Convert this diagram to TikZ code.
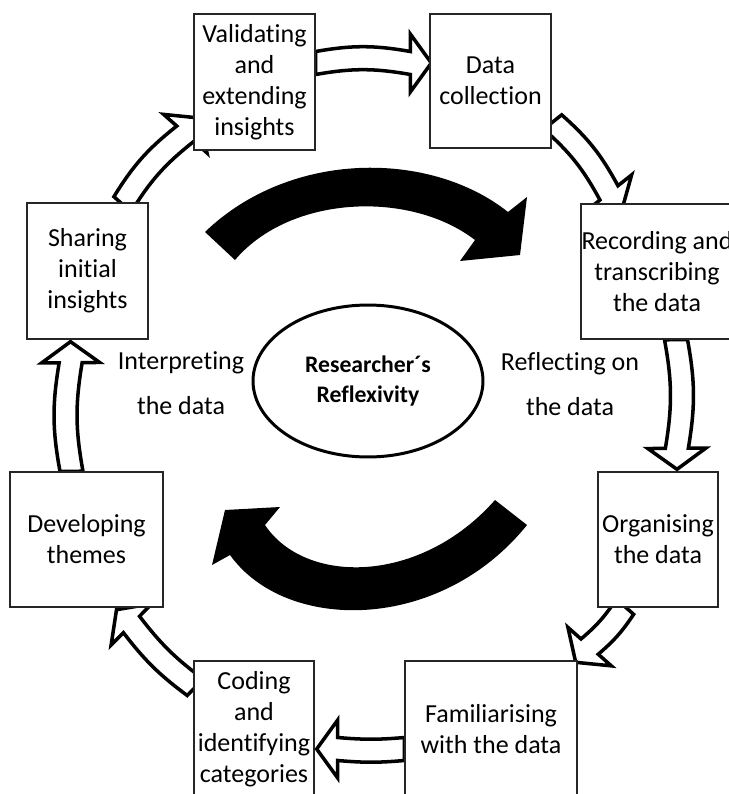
\documentclass[tikz,border=0pt]{standalone}
\usepackage{fontspec}
\setmainfont[Ligatures={NoCommon}]{Carlito}
\usetikzlibrary{positioning,calc,shapes.geometric,backgrounds}

% open block arrow from #2 to #3, #1 = bend of the shaft
\newcommand{\blockarr}[3][0]{%
  \coordinate (hb) at ($(#3)!0.42cm!(#2)$);
  \draw[whitearr] ($(#2)!0.23cm!90:(#3)$) to[bend left=#1] ($(hb)!0.23cm!-90:(#2)$)
    -- ($(hb)!0.58cm!-90:(#2)$) -- (#3) -- ($(hb)!0.58cm!90:(#2)$)
    -- ($(hb)!0.23cm!90:(#2)$) to[bend right=#1] ($(#2)!0.23cm!-90:(#3)$) -- cycle;}

\begin{document}
\begin{tikzpicture}[x=0.02cm,y=-0.02cm,
  box/.style={draw=black!85,line width=0.8pt,fill=white,inner sep=0pt,align=center,
    font=\fontsize{14.8}{17.6}\selectfont},
  lbl/.style={align=center,font=\fontsize{14.8}{25.6}\selectfont},
  whitearr/.style={draw,fill=white,line width=2pt,line join=miter}]
\useasboundingbox (0,0) rectangle (728,794);
% ---- stages round the cycle ----
\node[box,minimum width=2.42cm,minimum height=2.72cm] (valid) at (254.5,82) {Validating\\and\\extending\\insights};
\node[box,minimum width=2.42cm,minimum height=2.68cm] (data) at (490.5,81) {Data\\collection};
\node[box,minimum width=3.04cm,minimum height=2.70cm] (record) at (657,271.5) {Recording and\\transcribing\\the data};
\node[box,minimum width=2.40cm,minimum height=2.70cm] (organ) at (658,539.5) {Organising\\the data};
\node[box,minimum width=3.44cm,minimum height=2.72cm] (famil) at (491,729) {Familiarising\\with the data};
\node[box,minimum width=2.40cm,minimum height=2.72cm] (coding) at (254,729) {Coding\\and\\identifying\\categories};
\node[box,minimum width=3.06cm,minimum height=2.70cm] (devel) at (86.5,539.5) {Developing\\themes};
\node[box,minimum width=2.42cm,minimum height=2.72cm] (share) at (87.5,271) {Sharing\\initial\\insights};
% ---- centre ----
\node[draw,ellipse,line width=1.7pt,minimum width=4.6cm,minimum height=3.04cm,align=center,
  font=\bfseries\fontsize{13.5}{17}\selectfont] (refl) at (368,381) {Researcher´s\\Reflexivity};
\node[lbl] (interp) at (181,383) {Interpreting\\the data};
\node[lbl] (reflect) at (570,384) {Reflecting on\\the data};
% ---- black arrows ----
\fill (205,232) .. controls (290,150) and (430,150) .. (508,212) -- (527,197) -- (520,255)
  -- (460,261) -- (475,240) .. controls (410,190) and (290,195) .. (235,260) -- cycle;
\fill (527,525) .. controls (440,633) and (286,633) .. (230,555) -- (212,565) -- (225,510)
  -- (280,507) -- (265,525) .. controls (305,585) and (420,585) .. (495,500) -- cycle;
% ---- white arrows between stages ----
\coordinate (valid-out) at ($(valid.east)+(0,-19)$);
\coordinate (data-in) at ($(data.west)+(2,-18)$);
\coordinate (data-out) at ($(data.east)+(1,41)$);
\coordinate (record-in) at ($(record.north)+(-35,6)$);
\coordinate (record-out) at ($(record.south)+(19,0)$);
\coordinate (organ-in) at ($(organ.north)+(19,-2)$);
\coordinate (organ-out) at ($(organ.south)+(-33,-1)$);
\coordinate (famil-in) at ($(famil.north east)+(-2,2)$);
\coordinate (famil-out) at ($(famil.west)+(0,20)$);
\coordinate (coding-in) at ($(coding.east)+(2,20)$);
\coordinate (coding-out) at ($(coding.north west)+(2,27)$);
\coordinate (devel-in) at ($(devel.south)+(30,2)$);
\coordinate (devel-out) at ($(devel.north)+(-15,0)$);
\coordinate (share-in) at ($(share.south)+(-17,2)$);
\coordinate (share-out) at ($(share.north)+(35,2)$);
\coordinate (valid-in) at ($(valid.west)+(6,36)$);
\begin{scope}[on background layer]
\blockarr[10]{valid-out}{data-in}
\blockarr[10]{data-out}{record-in}
\blockarr[10]{record-out}{organ-in}
\blockarr[8]{organ-out}{famil-in}
\blockarr[5]{famil-out}{coding-in}
\blockarr[8]{coding-out}{devel-in}
\blockarr[10]{devel-out}{share-in}
\blockarr[10]{share-out}{valid-in}
\end{scope}
\end{tikzpicture}
\end{document}
